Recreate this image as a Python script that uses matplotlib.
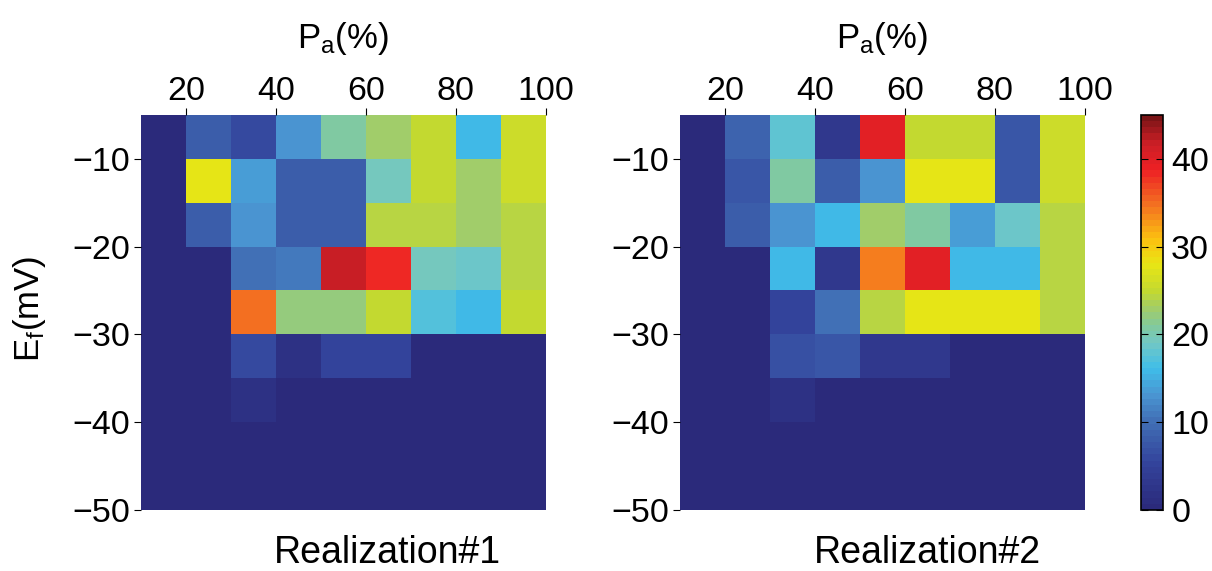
import numpy as np
import matplotlib
matplotlib.use('Agg')
import matplotlib.pyplot as plt
from matplotlib.colors import LinearSegmentedColormap

plt.rcParams['font.family'] = ['Liberation Sans', 'DejaVu Sans']
plt.rcParams['mathtext.fontset'] = 'custom'
plt.rcParams['mathtext.rm'] = 'Liberation Sans'
plt.rcParams['mathtext.it'] = 'Liberation Sans:italic'

# Pa 分箱邊界 (%) 與 Ef 分箱邊界 (mV)
pa_edges = [10, 20, 30, 40, 50, 60, 70, 80, 90, 100]
ef_edges = [-5, -10, -15, -20, -25, -30, -35, -40, -45, -50]
x_ticks = [20, 40, 60, 80, 100]
y_ticks = [-10, -20, -30, -40, -50]
cbar_ticks = [0, 10, 20, 30, 40]

# 每列由上 (-5~-10) 到下 (-45~-50)，每行由 Pa 10~20 到 90~100
real1 = [
    [0, 8, 6, 13, 21, 23, 25, 16, 26],
    [0, 28, 14, 8, 8, 19, 25, 23, 26],
    [0, 8, 13, 8, 8, 24.5, 24.5, 23, 24],
    [0, 0, 10, 11, 42, 38, 19, 18.5, 24],
    [0, 0, 35, 22, 22, 25, 17, 16, 25],
    [0, 0, 6, 2, 5.5, 5.5, 0, 0, 0],
    [0, 0, 2, 0, 0, 0, 0, 0, 0],
    [0, 0, 0, 0, 0, 0, 0, 0, 0],
    [0, 0, 0, 0, 0, 0, 0, 0, 0],
]
real2 = [
    [0, 8.5, 18, 3, 40, 25, 25, 7.5, 26],
    [0, 7.5, 21, 8, 13, 28, 28, 7.5, 26],
    [0, 8, 13, 16, 23, 21, 14, 18.5, 24],
    [0, 0, 16, 3, 34, 40, 16, 16, 24],
    [0, 0, 5.5, 10.5, 24.5, 28, 28, 28, 24.5],
    [0, 0, 6.5, 7.5, 3, 3, 0, 0, 0],
    [0, 0, 2, 0, 0, 0, 0, 0, 0],
    [0, 0, 0, 0, 0, 0, 0, 0, 0],
    [0, 0, 0, 0, 0, 0, 0, 0, 0],
]
titles = ['Realization#1', 'Realization#2']

# 印刷後偏暗的 jet 色表
anchors = [
    (0, '#2b2a7b'), (5, '#33439b'), (10, '#4170b6'), (13, '#4a96d2'),
    (16, '#3fbde9'), (19, '#73c8c4'), (21, '#82c99c'), (23, '#a3cd66'),
    (25, '#c3d930'), (28, '#e8e615'), (31, '#fcc010'), (35, '#f36f21'),
    (39, '#ed2024'), (42, '#cc1f26'), (45, '#7a1416'),
]
cmap = LinearSegmentedColormap.from_list('mjet', [(v / 45, c) for v, c in anchors], N=64)

fig = plt.figure(figsize=(12.12, 5.71), dpi=100)
lefts = [0.1163, 0.5611]
for left, data, name in zip(lefts, [real1, real2], titles):
    ax = fig.add_axes([left, 0.1068, 0.334, 0.692])
    z = np.array(data)
    mesh = ax.pcolormesh(pa_edges, ef_edges, z, cmap=cmap, vmin=0, vmax=45)
    ax.set_xlim(10, 100)
    ax.set_ylim(-50, -5)
    ax.xaxis.tick_top()
    ax.xaxis.set_label_position('top')
    ax.set_xticks(x_ticks)
    ax.set_yticks(y_ticks)
    ax.tick_params(labelsize=24.5, length=5, direction='out', pad=3)
    ax.tick_params(axis='x', pad=0.5)
    ax.set_xlabel('P$_{\\mathrm{a}}$(%)', fontsize=25, labelpad=20)
    ax.text(0.61, -0.062, name, transform=ax.transAxes, ha='center', va='top', fontsize=27)
    for s in ax.spines.values():
        s.set_visible(False)

fig.text(0.024, 0.46, 'E$_{\\mathrm{f}}$(mV)', rotation=90, ha='center', va='center', fontsize=25)

cax = fig.add_axes([0.9414, 0.1068, 0.018, 0.692])
cb = fig.colorbar(mesh, cax=cax, ticks=cbar_ticks)
cb.ax.tick_params(labelsize=24.5, length=5, direction='in', left=True, right=True, pad=6)
cb.outline.set_linewidth(1.2)

fig.savefig('out.png', dpi=100)
